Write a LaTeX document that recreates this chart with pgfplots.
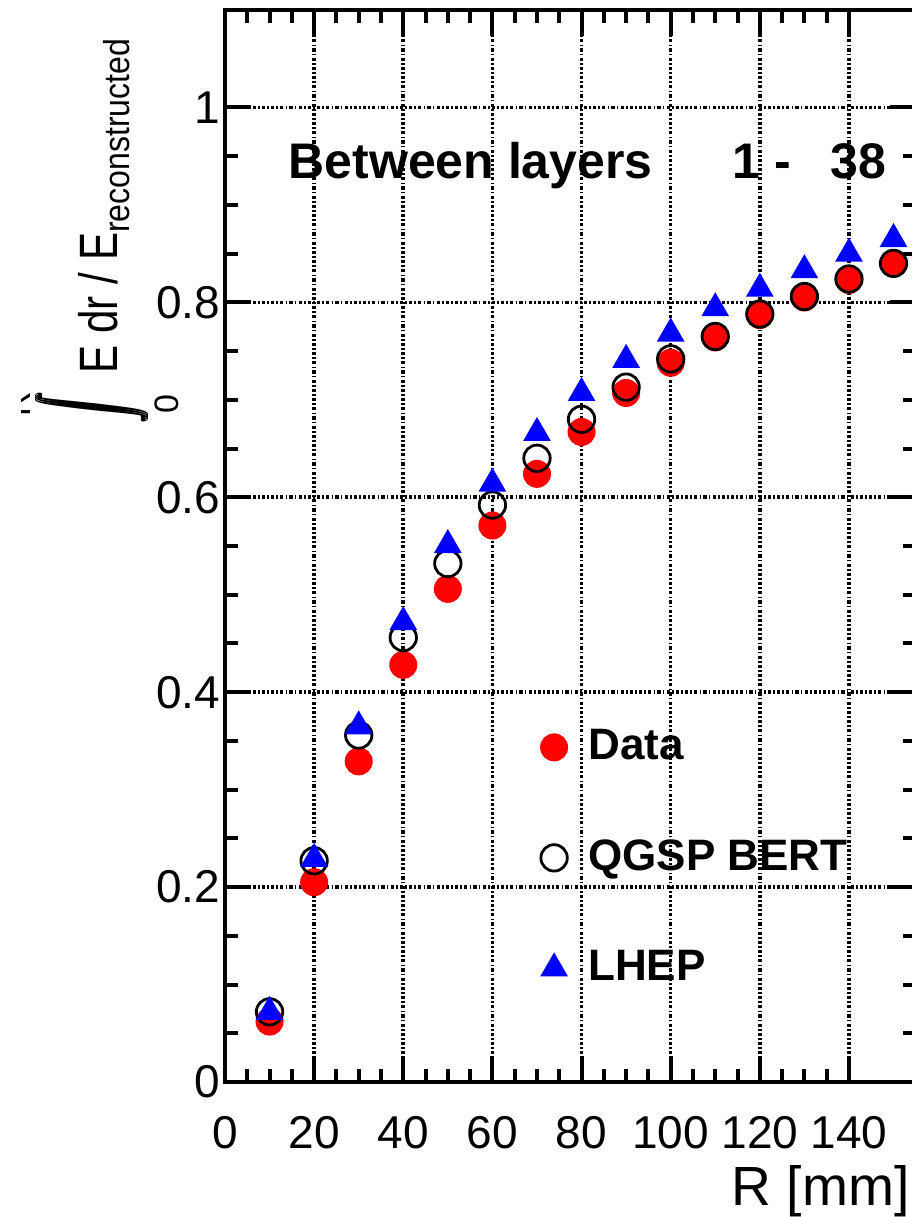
\documentclass[border=0pt]{standalone}
\usepackage{pgfplots}
\pgfplotsset{compat=1.18}
\usepackage{fontspec}
\setmainfont{Liberation Sans}
\definecolor{datared}{RGB}{255,0,0}
\definecolor{lhepblue}{RGB}{0,0,255}

% heavy integral sign with limits R (top) and 0 (bottom)
\newcommand{\intglyph}{\raisebox{-7.75pt}{\resizebox{7pt}{28.25pt}{\raisebox{\depth}{$\displaystyle\int$}}}}
\newcommand{\intR}{%
  \rlap{\intglyph}\rlap{\hspace{0.5pt}\intglyph}\rlap{\hspace{1pt}\intglyph}%
  \rlap{\hspace{4.8pt}\makebox[0pt]{\raisebox{-15.3pt}{\fontsize{8.5}{9}\selectfont 0}}}%
  \rlap{\hspace{4.8pt}\makebox[0pt]{\raisebox{21.75pt}{\fontsize{8.5}{9}\selectfont R}}}%
  \hspace{12.5pt}}

\begin{document}
\begin{tikzpicture}
\begin{axis}[
  scale only axis, width=172.7pt, height=268pt,
  at={(0,0)}, anchor=south west,
  xmin=0, xmax=155, ymin=0, ymax=1.1,
  xtick={0,20,40,60,80,100,120,140},
  ytick={0,0.2,0.4,0.6,0.8,1},
  minor x tick num=3, minor y tick num=3,
  tick align=inside,
  major tick length=6.5pt, minor tick length=3.3pt,
  every tick/.style={black, line width=1pt},
  axis line style={line width=1pt},
  grid=major,
  major grid style={black, line width=0.9pt, dash pattern=on 0.8pt off 0.55pt on 0.4pt off 0.55pt},
  /pgf/number format/assume math mode=true,
  tick label style={font=\fontsize{11.5}{13}\selectfont},
  xticklabel style={yshift=-5pt},
  yticklabel style={xshift=2.3pt},
  xlabel={R [mm]},
  xlabel style={font=\fontsize{13.8}{15}\selectfont, inner sep=0pt, at={(axis cs:153.8,0)}, anchor=base east, yshift=-30.75pt},
  ylabel={\intR\scalebox{0.78}[1]{E dr / E}\scalebox{0.89}[1]{\raisebox{-3pt}{\fontsize{9}{9}\selectfont reconstructed}}},
  ylabel style={font=\fontsize{13.5}{15}\selectfont, inner sep=0pt, at={(axis description cs:-0.1563,0.974)}, anchor=base east},
  legend style={draw=none, fill=none, inner sep=0pt, at={(axis cs:70.7,0.371)}, anchor=north west,
    row sep=14.5pt, font=\bfseries\fontsize{11}{13}\selectfont,
    /tikz/every odd column/.append style={column sep=3.25pt}},
  legend cell align=left,
]
% measured energy fraction
\addplot[only marks, mark=*, mark size=3.3pt, draw=datared, fill=datared] coordinates {
  (10,0.062) (20,0.205) (30,0.329) (40,0.428) (50,0.506) (60,0.571) (70,0.624) (80,0.667)
  (90,0.707) (100,0.738) (110,0.764) (120,0.787) (130,0.805) (140,0.823) (150,0.840)};
\addlegendentry{Data}
% QGSP_BERT simulation
\addplot[only marks, mark=o, mark size=3.3pt, draw=black, line width=0.7pt] coordinates {
  (10,0.072) (20,0.227) (30,0.356) (40,0.456) (50,0.532) (60,0.592) (70,0.640) (80,0.680)
  (90,0.713) (100,0.742) (110,0.765) (120,0.788) (130,0.806) (140,0.824) (150,0.840)};
\addlegendentry{QGSP BERT}
% LHEP simulation
\addplot[only marks, mark=triangle*, mark size=3.6pt, draw=lhepblue, fill=lhepblue] coordinates {
  (10,0.072) (20,0.229) (30,0.365) (40,0.472) (50,0.551) (60,0.614) (70,0.666) (80,0.707)
  (90,0.741) (100,0.768) (110,0.794) (120,0.814) (130,0.833) (140,0.850) (150,0.865)};
\addlegendentry{LHEP}

\node[font=\bfseries\fontsize{12.5}{14}\selectfont, anchor=base west, inner sep=0pt] at (axis cs:14.1,0.927) {Between layers};
\node[font=\bfseries\fontsize{12.5}{14}\selectfont, anchor=base west, inner sep=0pt] at (axis cs:113.8,0.927) {1 -};
\node[font=\bfseries\fontsize{12.5}{14}\selectfont, anchor=base west, inner sep=0pt] at (axis cs:135.7,0.927) {38};
\end{axis}
% page margin on the left
\fill[white] (-56.3pt,-34pt) rectangle (-51pt,271pt);
\pgfresetboundingbox
\path[use as bounding box] (-56.25pt,-33.75pt) rectangle (171.5pt,270.5pt);
\end{tikzpicture}
\end{document}
